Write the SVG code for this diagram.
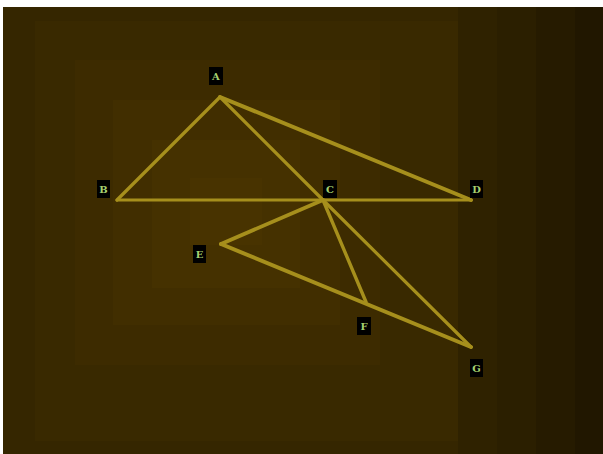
<svg xmlns="http://www.w3.org/2000/svg" width="603" height="454" viewBox="0 0 603 454">
<style>
.e{stroke:#a68f1c;stroke-linecap:round;fill:none}
.lb rect{fill:#000}
.lb text{font-family:"DejaVu Serif",serif;font-weight:bold;font-size:10px;fill:#a6d070;text-anchor:middle}
</style>
<rect x="0" y="0" width="603" height="454" fill="#fff"/>
<g id="background">
<rect x="3" y="7" width="600" height="447" fill="#352600"/>
<rect x="35" y="21" width="425" height="420" fill="#392900"/>
<rect x="75" y="60" width="305" height="305" fill="#3d2b00"/>
<rect x="113" y="100" width="227" height="225" fill="#412e00"/>
<rect x="152" y="140" width="148" height="148" fill="#453100"/>
<rect x="190" y="178" width="72" height="67" fill="#483300"/>
<rect x="458" y="7" width="39" height="447" fill="#2f2200"/>
<rect x="497" y="7" width="39" height="447" fill="#2b1f00"/>
<rect x="536" y="7" width="39" height="447" fill="#261b00"/>
<rect x="575" y="7" width="28" height="447" fill="#211700"/>
</g>
<g id="connectors">
<line class="e" x1="220" y1="97" x2="117" y2="200" stroke-width="3.2"/>
<line class="e" x1="220" y1="97" x2="323" y2="200" stroke-width="3.2"/>
<line class="e" x1="220" y1="97" x2="471" y2="200" stroke-width="4"/>
<line class="e" x1="117" y1="200" x2="471" y2="200" stroke-width="3.2"/>
<line class="e" x1="323" y1="200" x2="221" y2="244" stroke-width="3.8"/>
<line class="e" x1="221" y1="244" x2="471" y2="347" stroke-width="4"/>
<line class="e" x1="323" y1="200" x2="366" y2="302" stroke-width="3.4"/>
<line class="e" x1="323" y1="200" x2="471" y2="347" stroke-width="3.2"/>
</g>
<g id="node-A" class="lb"><rect x="209" y="67" width="14" height="18"/><text x="216" y="79.5">A</text></g>
<g id="node-B" class="lb"><rect x="97" y="180" width="13" height="18"/><text x="103.5" y="192.5">B</text></g>
<g id="node-C" class="lb"><rect x="323" y="180" width="14" height="18"/><text x="330" y="192.5">C</text></g>
<g id="node-D" class="lb"><rect x="470" y="180" width="13" height="18"/><text x="476.5" y="192.5">D</text></g>
<g id="node-E" class="lb"><rect x="193" y="245" width="13" height="18"/><text x="199.5" y="257.5">E</text></g>
<g id="node-F" class="lb"><rect x="357" y="317" width="14" height="18"/><text x="364" y="329.5">F</text></g>
<g id="node-G" class="lb"><rect x="470" y="359" width="13" height="18"/><text x="476.5" y="371.5">G</text></g>
</svg>
